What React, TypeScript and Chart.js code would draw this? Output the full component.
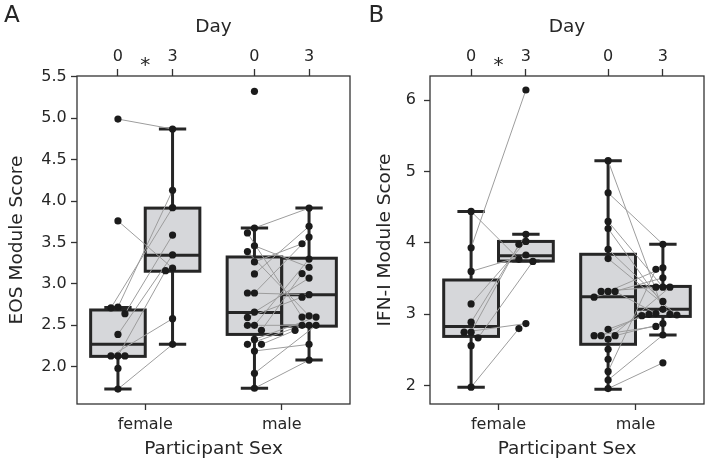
import { useEffect, useRef } from "react";
import { Chart, registerables } from "chart.js";

Chart.register(...registerables);

const FONT = "'DejaVu Sans', sans-serif";
const INK = "#262626";
const BOX_FILL = "#d6d7da";
const PAIR_LINE = "#9d9d9d";
const DOT = "#1b1b1b";
const TICK_SIZE = 16;
const TITLE_SIZE = 18.5;

// ---------- shared categories / labels ----------
const sexCategories = ["female", "male"];
const dayLabels = ["0", "3"];
const xAxisTitle = "Participant Sex";
const dayAxisTitle = "Day";
const sigMark = "*";
const sigGroups = [0]; // group index carrying the significance mark

// ---------- Panel A : EOS module score ----------
const eosTicks = [2.0, 2.5, 3.0, 3.5, 4.0, 4.5, 5.0, 5.5];
const eosFemaleDay0 = [4.99, 3.76, 2.72, 2.71, 2.64, 2.39, 2.13, 2.13, 2.13, 1.98, 1.73];
const eosFemaleDay3 = [4.87, 4.13, 3.92, 3.59, 3.35, 3.19, 3.16, 2.58, 2.27];
const eosFemalePairs = [[0, 0], [1, 5], [2, 1], [3, 2], [4, 3], [5, 4], [6, 6], [7, 7], [10, 8]];
// box stats: [whisker low, Q1, median, Q3, whisker high]
const eosFemaleBox0 = [1.73, 2.125, 2.27, 2.685, 2.715];
const eosFemaleBox3 = [2.27, 3.153, 3.345, 3.915, 4.87];

const eosMaleDay0 = [5.325, 3.675, 3.615, 3.46, 3.39, 3.265, 3.12, 2.89, 2.89, 2.66, 2.595, 2.5, 2.5, 2.44, 2.33, 2.27, 2.27, 2.19, 1.92, 1.74];
const eosMaleDay3 = [3.915, 3.695, 3.565, 3.485, 3.3, 3.2, 3.125, 3.07, 2.87, 2.84, 2.615, 2.6, 2.6, 2.5, 2.5, 2.5, 2.44, 2.27, 2.08];
const eosMalePairs = [[1, 0], [2, 11], [3, 5], [4, 10], [5, 3], [6, 1], [7, 2], [8, 8], [9, 7], [10, 9], [11, 4], [12, 13], [13, 6], [14, 12], [15, 14], [16, 16], [17, 17], [18, 15], [19, 18]];
const eosMaleBox0 = [1.74, 2.39, 2.655, 3.325, 3.675];
const eosMaleBox3 = [2.08, 2.49, 2.87, 3.31, 3.915];

// ---------- Panel B : IFN-I module score ----------
const ifnTicks = [2, 3, 4, 5, 6];
const ifnFemaleDay0 = [4.44, 3.93, 3.6, 3.145, 2.89, 2.75, 2.75, 2.67, 2.56, 1.98];
const ifnFemaleDay3 = [6.14, 4.12, 4.02, 3.98, 3.83, 3.77, 3.74, 2.87, 2.8];
const ifnFemalePairs = [[1, 0], [0, 5], [2, 4], [3, 2], [4, 1], [5, 3], [6, 7], [7, 6], [9, 8]];
const ifnFemaleBox0 = [1.98, 2.69, 2.83, 3.48, 4.44];
const ifnFemaleBox3 = [3.745, 3.745, 3.82, 4.02, 4.12];

const ifnMaleDay0 = [5.15, 4.7, 4.3, 4.2, 3.91, 3.78, 3.32, 3.32, 3.32, 3.24, 2.79, 2.7, 2.7, 2.7, 2.65, 2.51, 2.37, 2.2, 2.08, 1.96];
const ifnMaleDay3 = [3.98, 3.65, 3.63, 3.51, 3.38, 3.38, 3.38, 3.18, 3.07, 3.01, 3.0, 3.0, 2.99, 2.98, 2.87, 2.83, 2.71, 2.32];
const ifnMalePairs = [[0, 8], [1, 0], [2, 4], [3, 10], [4, 7], [5, 12], [6, 1], [7, 5], [8, 9], [9, 3], [10, 11], [11, 13], [12, 14], [13, 15], [14, 6], [17, 2], [18, 16], [19, 17]];
const ifnMaleBox0 = [1.95, 2.58, 3.245, 3.84, 5.15];
const ifnMaleBox3 = [2.71, 2.97, 3.07, 3.39, 3.98];

// ---------- layout constants ----------
const DAY_OFFSET = 0.2;
const BOX_HALF = 0.2;
const X_MIN = -0.5;
const X_MAX = 1.5;
const W = 354;
const H = 464;

type Group = { day0: number[]; day3: number[]; pairs: number[][]; box0: number[]; box3: number[] };
type Panel = {
  letter: string;
  yTitle: string;
  yMin: number;
  yMax: number;
  yTicks: number[];
  decimals: number;
  groups: Group[];
  axisWidth: number;
  yTickPad: number;
  yTitlePad: number;
  letterX: number;
};

const panels: Panel[] = [
  {
    letter: "A",
    yTitle: "EOS Module Score",
    yMin: 1.55,
    yMax: 5.51,
    yTicks: eosTicks,
    decimals: 1,
    groups: [
      { day0: eosFemaleDay0, day3: eosFemaleDay3, pairs: eosFemalePairs, box0: eosFemaleBox0, box3: eosFemaleBox3 },
      { day0: eosMaleDay0, day3: eosMaleDay3, pairs: eosMalePairs, box0: eosMaleBox0, box3: eosMaleBox3 },
    ],
    axisWidth: 77,
    yTickPad: 4.3,
    yTitlePad: 5.8,
    letterX: 4,
  },
  {
    letter: "B",
    yTitle: "IFN-I Module Score",
    yMin: 1.744,
    yMax: 6.336,
    yTicks: ifnTicks,
    decimals: 0,
    groups: [
      { day0: ifnFemaleDay0, day3: ifnFemaleDay3, pairs: ifnFemalePairs, box0: ifnFemaleBox0, box3: ifnFemaleBox3 },
      { day0: ifnMaleDay0, day3: ifnMaleDay3, pairs: ifnMalePairs, box0: ifnMaleBox0, box3: ifnMaleBox3 },
    ],
    axisWidth: 76,
    yTickPad: 8,
    yTitlePad: 20.5,
    letterX: 14.4,
  },
];

function swarmOffsets(values: number[], yPx: number, xPx: number, diam: number): number[] {
  const order = values.map((_, i) => i).sort((a, b) => values[b] - values[a]);
  const placed: { x: number; y: number }[] = [];
  const out = new Array(values.length).fill(0);
  for (const i of order) {
    const py = values[i] * yPx;
    let chosen = 0;
    for (let k = 0; k < 30; k++) {
      const m = Math.ceil(k / 2);
      const cand = k === 0 ? 0 : (k % 2 === 1 ? -m : m) * diam;
      if (placed.every((p) => Math.hypot(p.x - cand, p.y - py) >= diam - 0.01)) {
        chosen = cand;
        break;
      }
    }
    placed.push({ x: chosen, y: py });
    out[i] = chosen / xPx;
  }
  return out;
}

function PanelChart({ panel }: { panel: Panel }) {
  const ref = useRef<HTMLCanvasElement | null>(null);

  useEffect(() => {
    if (!ref.current) return;
    const plotW = W - 4 - panel.axisWidth;
    const plotH = H - 76 - 60;
    const xPx = plotW / (X_MAX - X_MIN);
    const yPx = plotH / (panel.yMax - panel.yMin);

    const points: { x: number; y: number }[] = [];
    const lines: ({ x: number; y: number } | { x: null; y: null })[] = [];
    panel.groups.forEach((g, gi) => {
      const c0 = gi - DAY_OFFSET;
      const c3 = gi + DAY_OFFSET;
      const o0 = swarmOffsets(g.day0, yPx, xPx, 7);
      const o3 = swarmOffsets(g.day3, yPx, xPx, 7);
      g.day0.forEach((v, i) => points.push({ x: c0 + o0[i], y: v }));
      g.day3.forEach((v, i) => points.push({ x: c3 + o3[i], y: v }));
      g.pairs.forEach(([a, b]) => {
        lines.push({ x: c0 + o0[a], y: g.day0[a] });
        lines.push({ x: c3 + o3[b], y: g.day3[b] });
        lines.push({ x: null, y: null });
      });
    });

    const drawBox = (chart: any, center: number, s: number[]) => {
      const { ctx } = chart;
      const xs = chart.scales.x;
      const ys = chart.scales.y;
      const [lo, q1, med, q3, hi] = s;
      const l = xs.getPixelForValue(center - BOX_HALF);
      const r = xs.getPixelForValue(center + BOX_HALF);
      const cx = xs.getPixelForValue(center);
      const cl = xs.getPixelForValue(center - BOX_HALF / 2);
      const cr = xs.getPixelForValue(center + BOX_HALF / 2);
      const yq1 = ys.getPixelForValue(q1);
      const yq3 = ys.getPixelForValue(q3);
      const ym = ys.getPixelForValue(med);
      const ylo = ys.getPixelForValue(lo);
      const yhi = ys.getPixelForValue(hi);
      ctx.fillStyle = BOX_FILL;
      ctx.fillRect(l, yq3, r - l, yq1 - yq3);
      ctx.strokeStyle = INK;
      ctx.lineWidth = 3;
      ctx.lineCap = "butt";
      ctx.beginPath();
      ctx.moveTo(cx, yq3);
      ctx.lineTo(cx, yhi);
      ctx.moveTo(cx, yq1);
      ctx.lineTo(cx, ylo);
      ctx.moveTo(cl, yhi);
      ctx.lineTo(cr, yhi);
      ctx.moveTo(cl, ylo);
      ctx.lineTo(cr, ylo);
      ctx.stroke();
      ctx.strokeRect(l, yq3, r - l, yq1 - yq3);
      ctx.beginPath();
      ctx.moveTo(l, ym);
      ctx.lineTo(r, ym);
      ctx.stroke();
    };

    const panelPlugin = {
      id: "panelDecor",
      beforeDatasetsDraw(chart: any) {
        const { ctx } = chart;
        ctx.save();
        panel.groups.forEach((g, gi) => {
          drawBox(chart, gi - DAY_OFFSET, g.box0);
          drawBox(chart, gi + DAY_OFFSET, g.box3);
        });
        ctx.restore();
      },
      afterDraw(chart: any) {
        const { ctx, chartArea } = chart;
        ctx.save();
        ctx.strokeStyle = "#333333";
        ctx.lineWidth = 1.3;
        ctx.strokeRect(chartArea.left, chartArea.top, chartArea.right - chartArea.left, chartArea.bottom - chartArea.top);
        ctx.fillStyle = INK;
        ctx.font = `23px ${FONT}`;
        ctx.textAlign = "left";
        ctx.textBaseline = "alphabetic";
        ctx.fillText(panel.letter, panel.letterX, 21.7);
        ctx.font = `20px ${FONT}`;
        ctx.textAlign = "center";
        sigGroups.forEach((gi) => {
          ctx.fillText(sigMark, chart.scales.x.getPixelForValue(gi), 71);
        });
        ctx.restore();
      },
    };

    const tickGrid = (len: number) => ({
      display: true,
      drawOnChartArea: false,
      drawTicks: true,
      tickLength: len,
      tickWidth: 1.3,
      tickColor: "#333333",
    });

    const chart = new Chart(ref.current, {
      type: "scatter",
      data: {
        datasets: [
          {
            data: points,
            pointRadius: 3.6,
            pointBackgroundColor: DOT,
            pointBorderWidth: 0,
            showLine: false,
          } as any,
          {
            data: lines as any,
            showLine: true,
            spanGaps: false,
            pointRadius: 0,
            borderColor: PAIR_LINE,
            borderWidth: 1,
          } as any,
        ],
      },
      options: {
        responsive: false,
        animation: false,
        events: [],
        layout: { padding: { left: 0, right: 4, top: 0, bottom: 0 } },
        plugins: { legend: { display: false }, tooltip: { enabled: false } },
        scales: {
          x: {
            type: "linear",
            position: "bottom",
            min: X_MIN,
            max: X_MAX,
            afterBuildTicks: (s: any) => {
              s.ticks = sexCategories.map((_, i) => ({ value: i }));
            },
            afterFit: (s: any) => {
              s.height = 60;
            },
            ticks: {
              callback: (_v: any, i: number) => sexCategories[i],
              font: { family: FONT, size: TICK_SIZE },
              color: INK,
              padding: 5.6,
              maxRotation: 0,
              autoSkip: false,
            },
            grid: tickGrid(6),
            border: { display: false },
            title: {
              display: true,
              text: xAxisTitle,
              font: { family: FONT, size: TITLE_SIZE },
              color: INK,
              padding: { top: 0, bottom: 3.3 },
            },
          },
          xTop: {
            type: "linear",
            position: "top",
            min: X_MIN,
            max: X_MAX,
            afterBuildTicks: (s: any) => {
              s.ticks = sexCategories.flatMap((_, i) => [i - DAY_OFFSET, i + DAY_OFFSET]).map((v) => ({ value: v }));
            },
            afterFit: (s: any) => {
              s.height = 76;
            },
            ticks: {
              callback: (_v: any, i: number) => dayLabels[i % dayLabels.length],
              font: { family: FONT, size: TICK_SIZE },
              color: INK,
              padding: 2.6,
              maxRotation: 0,
              autoSkip: false,
            },
            grid: tickGrid(7),
            border: { display: false },
            title: {
              display: true,
              text: dayAxisTitle,
              font: { family: FONT, size: TITLE_SIZE },
              color: INK,
              padding: { top: 15.8, bottom: 0 },
            },
          },
          y: {
            type: "linear",
            position: "left",
            min: panel.yMin,
            max: panel.yMax,
            afterBuildTicks: (s: any) => {
              s.ticks = panel.yTicks.map((v) => ({ value: v }));
            },
            afterFit: (s: any) => {
              s.width = panel.axisWidth;
            },
            ticks: {
              callback: (v: any) => Number(v).toFixed(panel.decimals),
              font: { family: FONT, size: TICK_SIZE },
              color: INK,
              padding: panel.yTickPad,
              autoSkip: false,
            },
            grid: tickGrid(6),
            border: { display: false },
            title: {
              display: true,
              text: panel.yTitle,
              font: { family: FONT, size: TITLE_SIZE },
              color: INK,
              padding: { top: panel.yTitlePad, bottom: 0 },
            },
          },
        },
      } as any,
      plugins: [panelPlugin],
    });
    return () => chart.destroy();
  }, [panel]);

  return (
    <div style={{ width: W, height: H }}>
      <canvas ref={ref} width={W} height={H} style={{ display: "block", width: W, height: H }} />
    </div>
  );
}

export default function App() {
  return (
    <div style={{ position: "absolute", left: 0, top: 0, width: 2 * W, height: H, display: "flex", background: "#fff" }}>
      {panels.map((p) => (
        <PanelChart key={p.letter} panel={p} />
      ))}
    </div>
  );
}
